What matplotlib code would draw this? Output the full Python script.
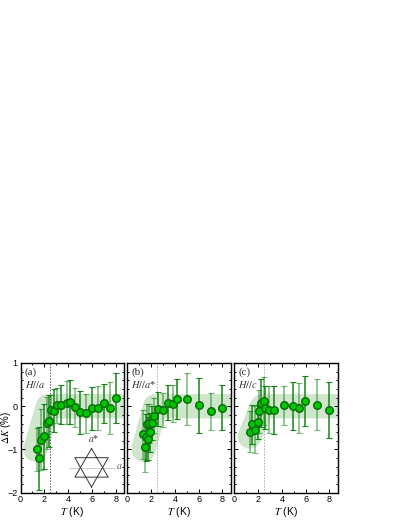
import numpy as np
import matplotlib
matplotlib.use("Agg")
import matplotlib.pyplot as plt
from matplotlib.ticker import MultipleLocator

# data
T_a = [1.4, 1.55, 1.7, 2.0, 2.2, 2.4, 2.55, 2.8, 3.1, 3.4, 3.9, 4.2, 4.6, 5.0, 5.5, 6.0, 6.5, 7.0, 7.5, 8.0]
K_a = [-1.0, -1.2, -0.77, -0.7, -0.38, -0.34, -0.09, -0.1, 0.02, 0.03, 0.08, 0.1, -0.02, -0.14, -0.16, -0.05, -0.04, 0.07, -0.05, 0.2]
E_a = [0.5, 0.73, 0.7, 0.75, 0.6, 0.6, 0.35, 0.5, 0.4, 0.45, 0.5, 0.5, 0.45, 0.5, 0.45, 0.5, 0.5, 0.45, 0.6, 0.58]

T_b = [1.35, 1.55, 1.5, 1.7, 1.62, 1.95, 1.85, 2.1, 2.27, 2.6, 3.0, 3.4, 3.87, 4.2, 5.0, 6.0, 7.0, 8.0]
K_b = [-0.65, -0.72, -0.94, -0.75, -0.4, -0.6, -0.39, -0.39, -0.22, -0.06, -0.09, 0.08, 0.06, 0.16, 0.16, 0.02, -0.12, -0.03]
E_b = [0.57, 0.55, 0.58, 0.5, 0.45, 0.45, 0.45, 0.4, 0.4, 0.4, 0.4, 0.4, 0.42, 0.46, 0.6, 0.64, 0.43, 0.52]

T_c = [1.32, 1.51, 1.74, 1.96, 2.07, 2.24, 2.5, 2.58, 2.94, 3.36, 4.2, 4.96, 5.46, 5.97, 6.97, 7.98]
K_c = [-0.59, -0.42, -0.54, -0.36, -0.12, 0.08, 0.12, -0.03, -0.08, -0.09, 0.02, 0.0, -0.05, 0.12, 0.04, -0.08]
E_c = [0.47, 0.45, 0.55, 0.4, 0.5, 0.55, 0.55, 0.5, 0.55, 0.55, 0.45, 0.56, 0.58, 0.58, 0.6, 0.65]

panels = [
    ("(a)", "$\\mathit{H//a}$", T_a, K_a, E_a, [(1.25, -1.0), (2.3, 0), (9, 0)]),
    ("(b)", "$\\mathit{H//a}$*", T_b, K_b, E_b, [(1.35, -1.0), (2.35, 0), (9, 0)]),
    ("(c)", "$\\mathit{H//c}$", T_c, K_c, E_c, [(1.3, -0.7), (2.35, 0), (9, 0)]),
]

plt.rcParams["font.family"] = "Liberation Sans"
plt.rcParams["mathtext.fontset"] = "stix"
plt.rcParams["font.size"] = 6.5

W, H = 407, 527
fig = plt.figure(figsize=(W / 100, H / 100), dpi=100)

lefts = [20.5, 127.3, 234.3]
for i, (tag, field, T, K, E, band) in enumerate(panels):
    ax = fig.add_axes([lefts[i] / W, 1 - 492.7 / H, 103.5 / W, 129.7 / H])
    bx, by = zip(*band)
    ax.plot(bx, by, color="#cfe6cc", lw=17.5, solid_capstyle="round", solid_joinstyle="round", zorder=1)
    ax.axvline(2.5, color="#555555" if i == 0 else "#aaaaaa", lw=0.7, ls=(0, (1.5, 1.5)), zorder=2)
    for j in range(len(T)):
        ax.errorbar(T[j], K[j], yerr=E[j], color="#0a7f0a", alpha=0.95 if j % 2 else 0.55,
                    lw=1.1, capsize=2, capthick=0.8, zorder=3)
    ax.plot(T, K, "o", ms=5.4, mfc="#00c800", mec="#0a6e0a", mew=1.1, zorder=4)

    ax.set_xlim(0, 8.7)
    ax.set_ylim(-2, 1)
    ax.xaxis.set_major_locator(MultipleLocator(2))
    ax.xaxis.set_minor_locator(MultipleLocator(1))
    ax.yaxis.set_major_locator(MultipleLocator(1))
    ax.yaxis.set_minor_locator(MultipleLocator(0.2))
    ax.tick_params(which="both", direction="in", top=True, right=True, width=0.7)
    ax.tick_params(which="major", length=3, pad=2)
    ax.tick_params(which="minor", length=1.6)
    if i > 0:
        ax.tick_params(labelleft=False)
    for s in ax.spines.values():
        s.set_linewidth(1.0)
    ax.set_xlabel("$\\mathit{T}$ (K)", fontsize=7.5, labelpad=0.5)
    ax.text(0.35, 0.72, tag, family="Liberation Serif", fontsize=8, color="#333333")
    ax.text(0.35, 0.42, field, family="Liberation Serif", fontsize=7.5, color="#333333")

    if i == 0:
        ax.set_ylabel("$\\Delta$$\\mathit{K}$ (%)", fontsize=7)
        ax.yaxis.set_label_coords(-0.075, 0.5)
        # hexagram inset
        ax.plot([4.06, 7.84], [-1.42, -1.42], color="#cccccc", lw=0.7, zorder=2)
        ax.plot([5.97, 4.57, 7.37, 5.97], [-0.98, -1.64, -1.64, -0.98], color="#333333", lw=0.7, zorder=2)
        ax.plot([5.97, 4.57, 7.37, 5.97], [-1.87, -1.19, -1.19, -1.87], color="#333333", lw=0.7, zorder=2)
        ax.text(5.7, -0.83, "$\\mathit{a}$*", family="Liberation Serif", fontsize=7, color="#333333")
        ax.text(8.05, -1.46, "$\\mathit{a}$", family="Liberation Serif", fontsize=7, color="#555555")

fig.savefig("out.png", dpi=100)
